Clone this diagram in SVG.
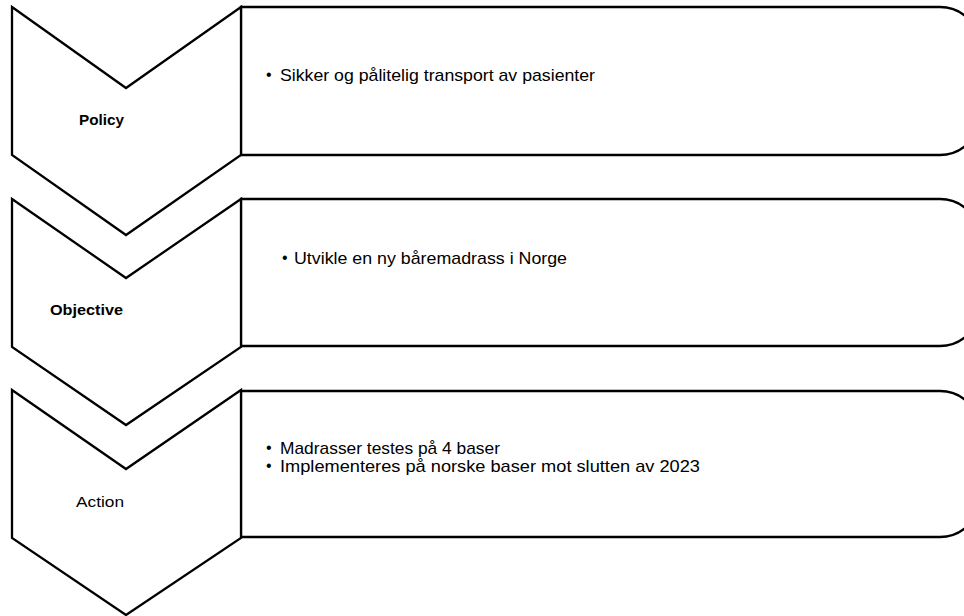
<svg xmlns="http://www.w3.org/2000/svg" width="964" height="616" viewBox="0 0 964 616">
<style>
.shape{fill:#fff;stroke:#000;stroke-width:2.3;stroke-linejoin:miter}
.lbl{font-family:"Liberation Sans",Arial,sans-serif;font-size:15.5px;fill:#000}
.b{font-weight:bold}
.txt{font-family:"Liberation Sans",Arial,sans-serif;font-size:17px;fill:#000}
.bul{font-family:"Liberation Sans",Arial,sans-serif;font-size:16px;fill:#000}
</style>
<rect width="964" height="616" fill="#fff"/>
<g id="policy">
<path class="shape" d="M241,7 H940 A40,40 0 0 1 980,47 V115 A40,40 0 0 1 940,155 H241 Z"/>
<polygon class="shape" points="12,7 126,88 241,7 241,155 126,235 12,155"/>
<text class="lbl b" x="79" y="125" textLength="45" lengthAdjust="spacingAndGlyphs">Policy</text>
<text class="bul" x="266" y="80">•</text>
<text class="txt" x="280" y="81" textLength="315" lengthAdjust="spacingAndGlyphs">Sikker og pålitelig transport av pasienter</text>
</g>
<g id="objective">
<path class="shape" d="M241,199 H940 A40,40 0 0 1 980,239 V306 A40,40 0 0 1 940,346 H241 Z"/>
<polygon class="shape" points="12,199 126,278 241,199 241,347 126,425 12,347"/>
<text class="lbl b" x="50" y="315" textLength="73" lengthAdjust="spacingAndGlyphs">Objective</text>
<text class="bul" x="282" y="263">•</text>
<text class="txt" x="294" y="264" textLength="273" lengthAdjust="spacingAndGlyphs">Utvikle en ny båremadrass i Norge</text>
</g>
<g id="action">
<path class="shape" d="M241,391 H940 A40,40 0 0 1 980,431 V497 A40,40 0 0 1 940,537 H241 Z"/>
<polygon class="shape" points="12,390 126,469 241,390 241,538 126,615 12,538"/>
<text class="lbl" x="76" y="507" textLength="48" lengthAdjust="spacingAndGlyphs">Action</text>
<text class="bul" x="266" y="453">•</text>
<text class="txt" x="280" y="454" textLength="220" lengthAdjust="spacingAndGlyphs">Madrasser testes på 4 baser</text>
<text class="bul" x="266" y="471">•</text>
<text class="txt" x="280" y="472" textLength="420" lengthAdjust="spacingAndGlyphs">Implementeres på norske baser mot slutten av 2023</text>
</g>
<g id="connectors"/>
</svg>
